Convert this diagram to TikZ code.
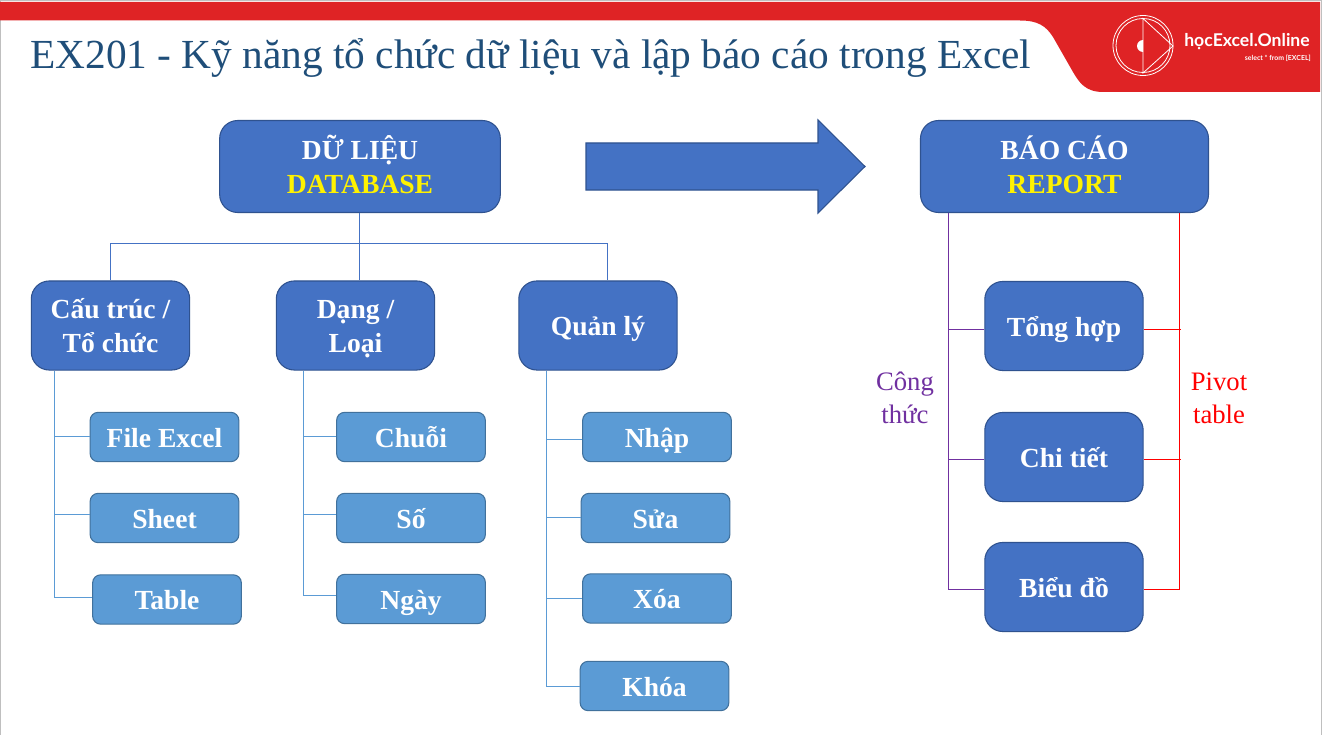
\documentclass[tikz,border=0pt]{standalone}
\usepackage{fontspec}
\setmainfont{Liberation Serif}
\newfontfamily\logofont{Lato}
\definecolor{bluebig}{HTML}{4472C4}
\definecolor{blueedge}{HTML}{2F528F}
\definecolor{bluesmall}{HTML}{5B9BD5}
\definecolor{blueedgeb}{HTML}{41719C}
\definecolor{redband}{HTML}{DF2325}
\definecolor{titleblue}{HTML}{1F4E79}
\definecolor{purp}{HTML}{7030A0}
\newcommand{\stt}[1]{\rule{0pt}{16pt}\rule[-1pt]{0pt}{1pt}\smash{#1}}
\tikzset{
 x=0.75pt,y=-0.75pt,
 bigbox/.style={draw=blueedge,line width=0.8pt,fill=bluebig,rounded corners=13.5pt,text=white,align=center,font=\fontsize{20.7}{25}\selectfont\bfseries,inner sep=0pt},
 smallbox/.style={draw=blueedgeb,line width=0.8pt,fill=bluesmall,rounded corners=6pt,text=white,align=center,font=\fontsize{20.7}{25}\selectfont\bfseries,inner sep=0pt,minimum width=111.5pt,minimum height=37pt},
 midbox/.style={bigbox,minimum width=118.8pt,minimum height=66.8pt},
 topbox/.style={bigbox},
 link/.style={draw=bluebig,line width=0.75pt},
 linkb/.style={draw=bluesmall,line width=0.8pt},
 linkp/.style={draw=purp,line width=0.75pt},
 linkr/.style={draw=red,line width=0.75pt},
 note/.style={align=center,font=\fontsize{20}{24.6}\selectfont,inner sep=0pt},
}
\begin{document}
\begin{tikzpicture}
\useasboundingbox (0,0) rectangle (1322,735);
\fill[white] (0,0) rectangle (1322,735);
\fill[black!25] (0,0) rectangle (1.5,735);
\fill[black!25] (0,0) rectangle (1322,1.5);
\fill[black!25] (1320.5,0) rectangle (1322,735);
% red band
\fill[redband] (0,2) -- (1320,2) -- (1320,92) -- (1103,92)
  .. controls (1085,92) and (1079,82) .. (1073,72)
  -- (1053,37) .. controls (1046,26) and (1038,20.5) .. (1020,20.5) -- (0,20.5) -- cycle;
% logo
\begin{scope}[draw=white,line width=0.6pt]
\coordinate (lc) at (1143,45.5);
\draw (lc) circle (30);
\draw (lc) circle (27);
\draw (1143,18.5) -- (1143,73) -- (1173,46) -- cycle;
\fill[white] (1143,52) arc (90:270:6) -- cycle;
\end{scope}
\node[anchor=west,text=white,inner sep=0pt,font=\logofont\fontsize{13.2}{15}\selectfont\bfseries] (logotext) at (1184,42) {họcExcel.Online};
\node[anchor=east,text=white,inner sep=0pt,font=\logofont\fontsize{5.2}{6}\selectfont\bfseries] (logosub) at (1311,58) {select * from [EXCEL]};
% title
\node[anchor=base west,text=titleblue,inner sep=0pt,font=\fontsize{31}{36}\selectfont] (title) at (30,68.5) {EX201 - Kỹ năng tổ chức dữ liệu và lập báo cáo trong Excel};
% arrow
\fill[bluebig,draw=blueedge,line width=0.8pt] (586,143) -- (818,143) -- (818,120) -- (865,166.5) -- (818,213) -- (818,190) -- (586,190) -- cycle;
% connector helpers
\coordinate (bus1) at (110.3,243.5);
\coordinate (bus2) at (607,243.5);
\coordinate (bm) at (359.5,243.5);
% top boxes
\node[topbox,minimum width=210.5pt,minimum height=69pt] (data) at (360,166.5) {\stt{DỮ LIỆU}\\\stt{\textcolor{yellow}{DATABASE}}};
\node[topbox,minimum width=216pt,minimum height=69pt] (report) at (1064.5,166.5) {\stt{BÁO CÁO}\\\stt{\textcolor{yellow}{REPORT}}};
% mid boxes
\node[midbox] (cau) at (110.5,325.5) {\stt{Cấu trúc /}\\\stt{Tổ chức}};
\node[midbox] (dang) at (355.5,325.5) {\stt{Dạng /}\\\stt{Loại}};
\node[midbox] (quan) at (598,325.5) {\stt{Quản lý}};
\node[midbox] (tong) at (1064,326) {\stt{Tổng hợp}};
\node[midbox] (chi) at (1064,457) {\stt{Chi tiết}};
\node[midbox] (bieu) at (1064,587) {\stt{Biểu đồ}};
% small boxes
\node[smallbox] (file) at (164.5,437) {\stt{File Excel}};
\node[smallbox] (sheet) at (164.5,518) {\stt{Sheet}};
\node[smallbox] (table) at (167,599.5) {\stt{Table}};
\node[smallbox] (chuoi) at (411,437) {\stt{Chuỗi}};
\node[smallbox] (so) at (411,518) {\stt{Số}};
\node[smallbox] (ngay) at (411,599) {\stt{Ngày}};
\node[smallbox] (nhap) at (657,437) {\stt{Nhập}};
\node[smallbox] (sua) at (655.5,518) {\stt{Sửa}};
\node[smallbox] (xoa) at (657,598.5) {\stt{Xóa}};
\node[smallbox] (khoa) at (654.5,686) {\stt{Khóa}};
% notes
\node[note,text=purp] (cong) at (905,397.5) {Công\\thức};
\node[note,text=red] (pivot) at (1219,398) {Pivot\\table};
% junction points
\coordinate (fileJ) at ([yshift=0.375pt]file.west);
\coordinate (sheetJ) at ([yshift=2.625pt]sheet.west);
\coordinate (tableJ) at ([yshift=1.5pt]table.west);
\coordinate (chuoiJ) at ([yshift=0.375pt]chuoi.west);
\coordinate (soJ) at ([yshift=2.625pt]so.west);
\coordinate (ngayJ) at ([yshift=2.625pt]ngay.west);
\coordinate (nhapJ) at ([yshift=-1.875pt]nhap.west);
\coordinate (suaJ) at ([yshift=0.375pt]sua.west);
\coordinate (xoaJ) at (xoa.west);
\coordinate (khoaJ) at ([yshift=-0.375pt]khoa.west);
\coordinate (tongL) at ([yshift=-2.25pt]tong.west);
\coordinate (chiL) at ([yshift=-1.5pt]chi.west);
\coordinate (bieuL) at ([yshift=-1.5pt]bieu.west);
\coordinate (tongR) at ([yshift=-2.25pt]tong.east);
\coordinate (chiR) at ([yshift=-1.5pt]chi.east);
\coordinate (bieuR) at ([yshift=-1.5pt]bieu.east);
% connectors
\draw[link] (bm |- data.south) -- (bm);
\draw[link] (bus1 |- cau.north) -- (bus1) -- (bus2) -- (bus2 |- quan.north);
\draw[link] (bm) -- (bm |- dang.north);
\coordinate (t1) at (54.7,0);
\draw[linkb] (t1 |- cau.south) -- (t1 |- tableJ) -- (tableJ);
\draw[linkb] (t1 |- fileJ) -- (fileJ);
\draw[linkb] (t1 |- sheetJ) -- (sheetJ);
\coordinate (t2) at (303.7,0);
\draw[linkb] (t2 |- dang.south) -- (t2 |- ngayJ) -- (ngayJ);
\draw[linkb] (t2 |- chuoiJ) -- (chuoiJ);
\draw[linkb] (t2 |- soJ) -- (soJ);
\coordinate (t3) at (546.4,0);
\draw[linkb] (t3 |- quan.south) -- (t3 |- khoaJ) -- (khoaJ);
\draw[linkb] (t3 |- nhapJ) -- (nhapJ);
\draw[linkb] (t3 |- suaJ) -- (suaJ);
\draw[linkb] (t3 |- xoaJ) -- (xoaJ);
\coordinate (r1) at (948.5,0);
\coordinate (r2) at (1179.5,0);
\draw[linkp] (r1 |- report.south) -- (r1 |- bieuL) -- (bieuL);
\draw[linkp] (r1 |- tongL) -- (tongL);
\draw[linkp] (r1 |- chiL) -- (chiL);
\draw[linkr] (r2 |- report.south) -- (r2 |- bieuR) -- (bieuR);
\draw[linkr] ([xshift=1pt]r2 |- tongR) -- (tongR);
\draw[linkr] ([xshift=1pt]r2 |- chiR) -- (chiR);
\end{tikzpicture}
\end{document}
